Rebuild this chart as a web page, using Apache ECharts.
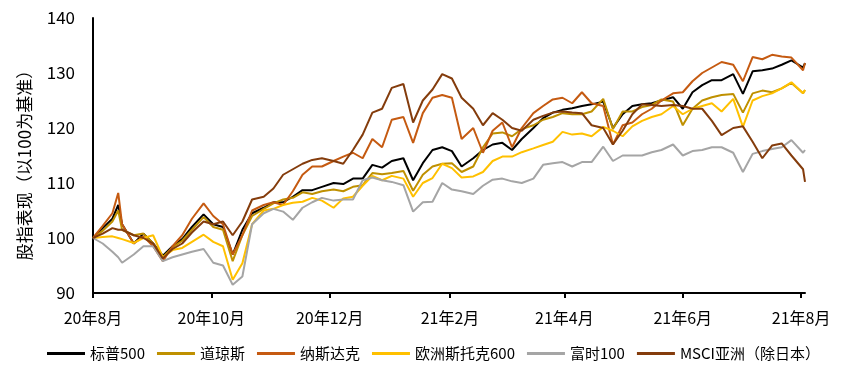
<!DOCTYPE html>
<html>
<head>
<meta charset="utf-8">
<script src="https://cdn.jsdelivr.net/npm/echarts@6/dist/echarts.min.js"></script>
<style>
  html, body { margin: 0; padding: 0; background: #fff; }
  #chart { width: 841px; height: 376px; }
</style>
</head>
<body>
<div id="chart"></div>
<script>
  // 采样日期（约每5天一个点）
  const dates = ['2020-08-01','2020-08-06','2020-08-11','2020-08-14','2020-08-16','2020-08-22','2020-08-27','2020-09-01','2020-09-06','2020-09-11','2020-09-16','2020-09-21','2020-09-27','2020-10-02','2020-10-07','2020-10-12','2020-10-17','2020-10-22','2020-10-28','2020-11-02','2020-11-07','2020-11-12','2020-11-17','2020-11-22','2020-11-27','2020-12-03','2020-12-08','2020-12-13','2020-12-18','2020-12-23','2020-12-28','2021-01-02','2021-01-08','2021-01-13','2021-01-18','2021-01-23','2021-01-28','2021-02-02','2021-02-07','2021-02-13','2021-02-18','2021-02-23','2021-02-28','2021-03-05','2021-03-10','2021-03-16','2021-03-21','2021-03-26','2021-03-31','2021-04-05','2021-04-10','2021-04-15','2021-04-21','2021-04-26','2021-05-01','2021-05-06','2021-05-11','2021-05-16','2021-05-21','2021-05-27','2021-06-01','2021-06-06','2021-06-11','2021-06-16','2021-06-21','2021-06-27','2021-07-02','2021-07-07','2021-07-12','2021-07-17','2021-07-22','2021-07-27','2021-08-02','2021-08-03'];

  const names = ['标普500', '道琼斯', '纳斯达克', '欧洲斯托克600', '富时100', 'MSCI亚洲（除日本）'];
  const colors = ['#000000', '#BF9000', '#C55A11', '#FFC000', '#A5A5A5', '#843C0C'];

  const sp500 = [100,101.8,103.5,106,102.5,99,100.8,99,96.8,98.5,99.8,102,104.3,102.5,102,97,101.5,104.5,105.5,106.5,106.5,107.5,108.7,108.7,109.3,110,109.8,110.8,110.8,113.3,112.8,114,114.5,110.5,113.6,116,116.5,115.8,113,114.5,116,117,117.3,116,118,120,121.8,122.8,123.3,123.6,124,124.3,124.8,120,122.5,124,124.3,124.5,125,125.6,123.5,126.5,127.8,128.7,128.7,129.8,126.2,130.3,130.5,130.8,131.5,132.3,131,131.8];
  const dow = [100,101.3,103,105,101.5,100.5,100.8,99,96.5,98.3,99.5,101.5,103.8,102,101.5,95.8,100.5,104,105.3,106.3,107,107.3,108.3,108,108.5,108.8,108.5,109.3,109.6,111.8,111.6,111.8,112.2,108.6,111.5,113,113.5,113.6,112,113,116.5,119,119.2,118.5,119.8,120.5,121.5,122,122.7,122.5,122.5,123,125.3,119.8,123,123,123.8,124.2,125.2,124.8,120.5,123.5,125,125.6,126,126.2,122.8,126.3,126.8,126.5,127.2,128.2,126.3,126.9];
  const nasdaq = [100,102.2,104.5,108.2,102.5,99,100.3,98.5,95.8,98.5,100.5,103.5,106.3,104,102.5,97,100.5,105,106,106.5,106,108.5,111.5,113,113,114,114.8,115.5,114.5,118,116.5,121.5,122,117.3,122.7,125.5,126,125.5,118,120,115.5,119.5,121,116.5,120,122.7,124,125.2,125.5,124.5,126.5,124.5,124,117,120.5,121,122.5,123.5,125,126.3,126.5,128.5,130,131,132,131.5,128.5,132.9,132.5,133.3,133,132.8,130.5,131.8];
  const stoxx600 = [100,100.2,100.3,100,99.8,99.1,100,100.5,96.5,97.8,98.2,99.3,100.6,99.3,98.5,92.4,95.4,102.5,105,105.3,106,106.4,106.6,107.3,106.8,105.5,107.2,107.5,109.5,111.3,110.5,111.3,110.8,107.5,110,110.9,113.5,112.7,111,111.2,112,114,114.8,114.8,115.6,116.3,116.9,117.5,119.3,118.8,119,118.5,120.2,119.5,118.5,120.3,121.3,122,122.5,124,122.5,123.5,124,124.5,123,125.3,120.2,125,125.8,126.3,127.2,128.3,126.3,126.9];
  const ftse100 = [100,99,97.5,96.5,95.5,97,98.5,98.5,95.8,96.5,97,97.5,98,95.5,95,91.5,93,102.5,104.5,105.3,104.8,103.3,105.5,106.5,107.3,106.8,107,107,110.5,111,110.5,110.2,109.6,104.8,106.5,106.6,110,108.8,108.5,108,109.5,110.6,110.8,110.3,110,110.8,113.3,113.6,113.8,113,113.8,113.8,116.6,114,115,115,115,115.6,116,117,115,115.8,116,116.5,116.5,115.5,112,115.3,115.8,116.2,116.5,117.8,115.5,116];
  const msciAsia = [100,100.8,101.8,101.5,101.5,100.5,100,99,96.3,98,99,101,103,102.5,103,100.5,103,107,107.5,109,111.5,112.5,113.5,114.2,114.5,114,113.5,116,118.8,122.8,123.5,127.3,128,121,125,127,129.8,129,125.5,123.5,120.5,122.7,121.5,120,119.5,121.5,122.2,122.8,123,122.8,122.7,120.5,120,117,119.5,122.5,124.3,124.2,124,124.2,124,123.5,123.5,121.3,118.7,120,120.3,117.5,114.5,116.8,117.2,115,112.5,110.2];

  const seriesValues = [sp500, dow, nasdaq, stoxx600, ftse100, msciAsia];

  // x轴：逐日类目，2020-08-01 ~ 2021-08-03
  const days = [];
  let d = new Date(Date.UTC(2020, 7, 1));
  const end = new Date(Date.UTC(2021, 7, 3));
  while (d <= end) {
    days.push(d.toISOString().slice(0, 10));
    d = new Date(d.getTime() + 86400000);
  }

  // 双月月初显示刻度
  function isTick(v) {
    return v.slice(8) === '01' && parseInt(v.slice(5, 7), 10) % 2 === 0;
  }

  const font = 'Noto Sans CJK SC';

  let chart = echarts.init(document.getElementById('chart'));
  chart.setOption({
    animation: false,
    color: colors,
    textStyle: { fontFamily: font },
    grid: { left: 93, right: 36, top: 18, bottom: 83 },
    legend: {
      left: 47,
      top: 346,
      width: 790,
      padding: 0,
      icon: 'rect',
      itemWidth: 38,
      itemHeight: 3,
      itemGap: 12,
      textStyle: { fontSize: 15, color: '#000', fontFamily: font },
      data: names
    },
    graphic: [{
      type: 'text',
      x: 25,
      y: 161,
      rotation: Math.PI / 2,
      style: {
        text: '股指表现（以100为基准）',
        font: '17px "Noto Sans CJK SC"',
        fill: '#000',
        align: 'center',
        verticalAlign: 'middle'
      }
    }],
    xAxis: {
      type: 'category',
      data: days,
      boundaryGap: false,
      axisLine: { lineStyle: { color: '#000', width: 2 } },
      axisTick: { interval: (i, v) => isTick(v), length: 5, lineStyle: { color: '#000', width: 2 } },
      axisLabel: {
        interval: (i, v) => isTick(v),
        margin: 17,
        fontSize: 16,
        color: '#000',
        formatter: v => v.slice(2, 4) + '年' + parseInt(v.slice(5, 7), 10) + '月'
      },
      splitLine: { show: false }
    },
    yAxis: {
      type: 'value',
      min: 90,
      max: 140,
      interval: 10,
      axisLine: { show: true, lineStyle: { color: '#000', width: 2 } },
      axisTick: { show: false },
      axisLabel: { fontSize: 17, color: '#000', margin: 18 },
      splitLine: { show: false }
    },
    series: names.map((n, k) => ({
      name: n,
      type: 'line',
      symbol: 'none',
      lineStyle: { width: 2 },
      data: dates.map((dt, i) => [dt, seriesValues[k][i]])
    }))
  });
</script>
</body>
</html>
